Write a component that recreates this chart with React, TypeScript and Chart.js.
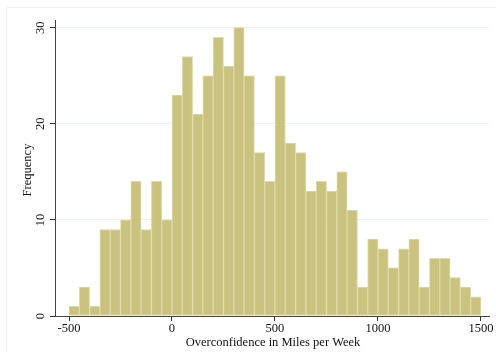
import React, { useEffect, useRef } from "react";
import { Chart, registerables } from "chart.js";

Chart.register(...registerables);

const binStarts = [
  -500, -450, -400, -350, -300, -250, -200, -150, -100, -50,
  0, 50, 100, 150, 200, 250, 300, 350, 400, 450,
  500, 550, 600, 650, 700, 750, 800, 850, 900, 950,
  1000, 1050, 1100, 1150, 1200, 1250, 1300, 1350, 1400, 1450,
];
const frequencies = [
  1, 3, 1, 9, 9, 10, 14, 9, 14, 10,
  23, 27, 21, 25, 29, 26, 30, 25, 17, 14,
  25, 18, 17, 13, 14, 13, 15, 11, 3, 8,
  7, 5, 7, 8, 3, 6, 6, 4, 3, 2,
];
const binWidth = 50;
const xTicks = [-500, 0, 500, 1000, 1500];
const yTicks = [0, 10, 20, 30];
const xTitle = "Overconfidence in Miles per Week";
const yTitle = "Frequency";

const FONT = '"Liberation Serif", "Times New Roman", serif';

export default function App() {
  const ref = useRef<HTMLCanvasElement | null>(null);

  useEffect(() => {
    if (!ref.current) return;
    const textPlugin = {
      id: "stataText",
      beforeDraw(chart: any) {
        const ctx = chart.ctx;
        ctx.save();
        ctx.strokeStyle = "#eaf1f2";
        ctx.lineWidth = 1;
        ctx.beginPath();
        ctx.moveTo(6.5, 353);
        ctx.lineTo(6.5, 7.5);
        ctx.lineTo(496, 7.5);
        ctx.stroke();
        ctx.restore();
      },
      afterDraw(chart: any) {
        const ctx = chart.ctx;
        const xs = chart.scales.x;
        const ys = chart.scales.y;
        ctx.save();
        ctx.fillStyle = "#111";
        ctx.font = `12.5px ${FONT}`;
        ctx.textAlign = "center";
        ctx.textBaseline = "middle";
        xTicks.forEach((v) => {
          ctx.fillText(String(v), xs.getPixelForValue(v), 329);
        });
        ctx.fillText(xTitle, (chart.chartArea.left + chart.chartArea.right) / 2 + 1, 343);
        yTicks.forEach((v) => {
          ctx.save();
          ctx.translate(41, ys.getPixelForValue(v));
          ctx.rotate(-Math.PI / 2);
          ctx.fillText(String(v), 0, 0);
          ctx.restore();
        });
        ctx.save();
        ctx.translate(28, (chart.chartArea.top + chart.chartArea.bottom) / 2 + 2);
        ctx.rotate(-Math.PI / 2);
        ctx.fillText(yTitle, 0, 0);
        ctx.restore();
        ctx.restore();
      },
    };

    const chart = new Chart(ref.current, {
      type: "bar",
      data: {
        datasets: [
          {
            data: binStarts.map((s, i) => ({ x: s + binWidth / 2, y: frequencies[i] })),
            backgroundColor: "#c9c37f",
            borderColor: "#dedaa9",
            borderWidth: 1,
            borderSkipped: false,
            barPercentage: 1,
            categoryPercentage: 1,
          },
        ],
      },
      options: {
        responsive: false,
        animation: false,
        events: [],
        layout: { padding: { left: 50, top: 20, right: 7, bottom: 40 } },
        plugins: { legend: { display: false }, tooltip: { enabled: false } },
        scales: {
          x: {
            type: "linear",
            min: -568,
            max: 1539,
            offset: false,
            afterBuildTicks: (scale: any) => {
              scale.ticks = xTicks.map((v) => ({ value: v }));
            },
            ticks: { display: false },
            grid: {
              display: true,
              offset: false,
              drawOnChartArea: false,
              drawTicks: true,
              tickLength: 5,
              tickColor: "#333",
            },
            border: { display: true, color: "#444", width: 1 },
          },
          y: {
            type: "linear",
            min: 0,
            max: 30.8,
            afterBuildTicks: (scale: any) => {
              scale.ticks = yTicks.map((v) => ({ value: v }));
            },
            ticks: { display: false },
            grid: {
              display: true,
              offset: false,
              color: "#e9f1f2",
              lineWidth: 1,
              drawTicks: true,
              tickLength: 5,
              tickColor: "#333",
            },
            border: { display: true, color: "#444", width: 1 },
          },
        },
      },
      plugins: [textPlugin],
    } as any);
    return () => chart.destroy();
  }, []);

  return (
    <div style={{ position: "fixed", left: 0, top: 0, width: 496, height: 361, background: "#fff" }}>
      <canvas ref={ref} width={496} height={361} style={{ display: "block" }} />
    </div>
  );
}
